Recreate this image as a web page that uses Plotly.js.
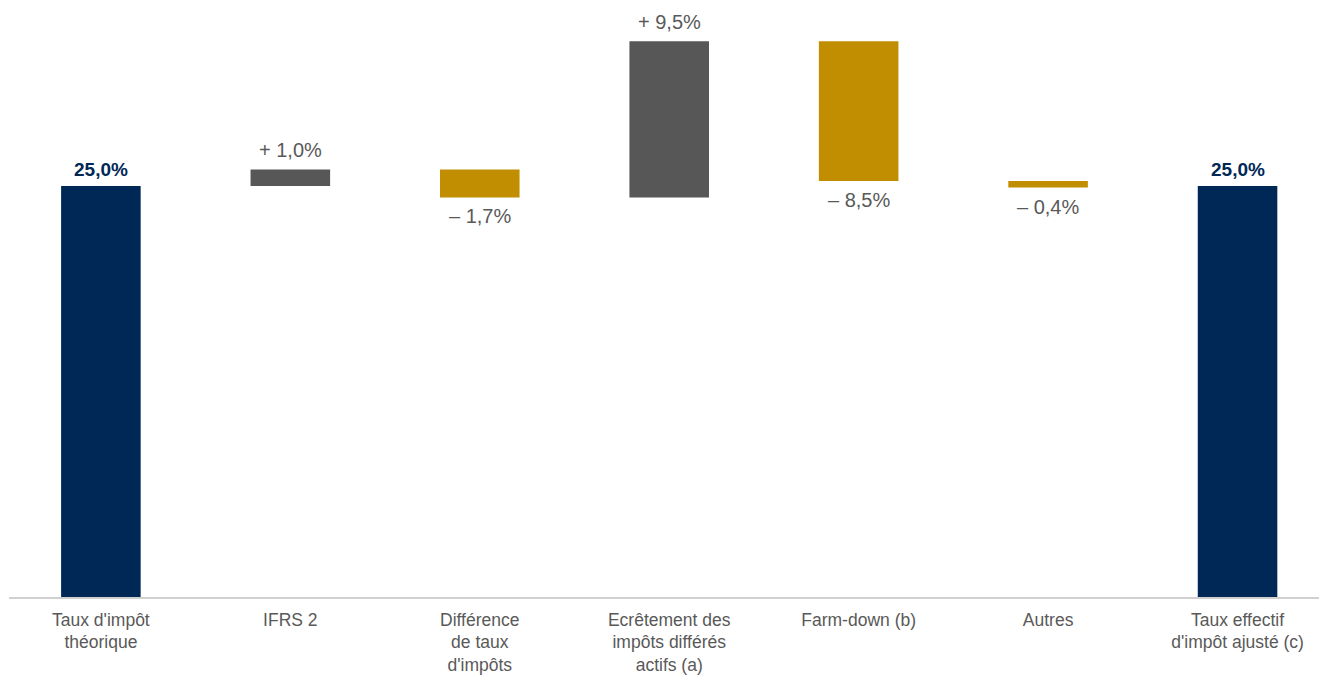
<!DOCTYPE html>
<html>
<head>
<meta charset="utf-8">
<script src="https://cdn.plot.ly/plotly-3.0.1.min.js"></script>
<style>html,body{margin:0;padding:0;background:#fff;}#chart{width:1319px;height:681px;}</style>
</head>
<body>
<div id="chart"></div>
<script>
const categories = ["Taux d'impôt<br>théorique", "IFRS 2", "Différence<br>de taux<br>d'impôts", "Ecrêtement des<br>impôts différés<br>actifs (a)", "Farm-down (b)", "Autres", "Taux effectif<br>d'impôt ajusté (c)"];
const measures = ["absolute", "relative", "relative", "relative", "relative", "relative", "absolute"];
const values = [25.0, 1.0, -1.7, 9.5, -8.5, -0.4, 25.0];
const valueLabels = ["<b>25,0%</b>", "+ 1,0%", "– 1,7%", "+ 9,5%", "– 8,5%", "– 0,4%", "<b>25,0%</b>"];

const NAVY = "#002856", GREY = "#575757", GOLD = "#C08E00";
const FONT = "'Liberation Sans', Arial, sans-serif";

const trace = {
  type: "waterfall",
  x: categories.map((c, i) => i),
  y: values,
  measure: measures,
  textinfo: "none",
  width: 0.42,
  increasing: {marker: {color: GREY}},
  decreasing: {marker: {color: GOLD}},
  totals: {marker: {color: NAVY}},
  connector: {visible: false},
  hoverinfo: "skip"
};

// label positions from the running total of the data
let running = 0;
const annotations = values.map((v, i) => {
  running = measures[i] === "absolute" ? v : running + v;
  const isTotal = measures[i] === "absolute";
  const up = isTotal || v >= 0;
  return {
    x: i, y: running, xref: "x", yref: "y",
    text: valueLabels[i], showarrow: false,
    yanchor: up ? "bottom" : "top",
    yshift: isTotal ? 4 : (up ? 6 : -6),
    font: {family: FONT, size: isTotal ? 19 : 20, color: isTotal ? NAVY : "#595959"}
  };
});

const layout = {
  width: 1319, height: 681,
  margin: {l: 9, r: 0, t: 5, b: 84},
  paper_bgcolor: "#fff", plot_bgcolor: "#fff",
  showlegend: false,
  annotations: annotations,
  xaxis: {
    tickmode: "array",
    tickvals: categories.map((c, i) => i),
    ticktext: categories,
    range: [-0.485, 6.43],
    showline: true, linecolor: "#d0d0d0", linewidth: 1.5,
    showgrid: false, zeroline: false, ticks: "",
    ticklabelstandoff: 6,
    tickfont: {family: FONT, size: 17.5, color: "#595959"}
  },
  yaxis: {
    range: [0, 36], visible: false, showgrid: false, zeroline: false
  }
};

Plotly.newPlot("chart", [trace], layout, {displayModeBar: false, staticPlot: true});
</script>
</body>
</html>
